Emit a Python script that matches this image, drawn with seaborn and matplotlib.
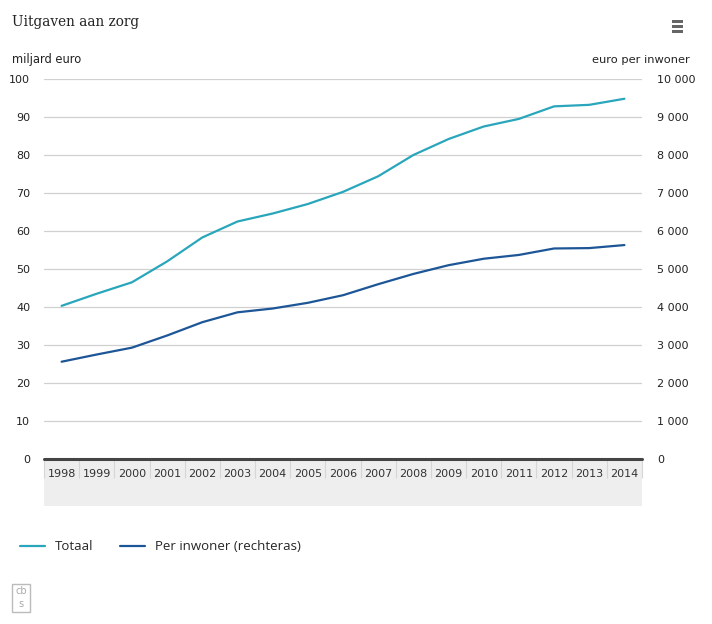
import numpy as np
import pandas as pd
import matplotlib
matplotlib.use("Agg")
import matplotlib.pyplot as plt
import seaborn as sns
from matplotlib.patches import Rectangle
from matplotlib.lines import Line2D
from matplotlib.ticker import FuncFormatter, FixedLocator

years = [str(y) for y in range(1998, 2015)]
totaal = [40.3, 43.5, 46.5, 52.0, 58.3, 62.5, 64.6, 67.1, 70.3, 74.4,
          80.0, 84.2, 87.5, 89.5, 92.8, 93.2, 94.8]
per_inwoner = [2560, 2750, 2930, 3250, 3600, 3860, 3960, 4110, 4310, 4600,
               4870, 5100, 5270, 5370, 5540, 5550, 5630]

col_totaal = "#29a6bb"
col_inwoner = "#1d5697"

sns.set_theme(style="white")
plt.rcParams["font.family"] = ["Liberation Sans Narrow", "DejaVu Sans"]

df = pd.DataFrame({"pos": np.arange(len(years)), "totaal": totaal, "inwoner": per_inwoner})

W, H = 712, 624
fig = plt.figure(figsize=(W / 100, H / 100), dpi=100)
left, right, top, bottom = 44 / W, 642 / W, 79 / H, 459 / H
ax = fig.add_axes([left, 1 - bottom, right - left, bottom - top])
ax.set_facecolor("none")

# grey band under the x axis
fig.patches.append(Rectangle((left, 1 - 506 / H), right - left, 47 / H,
                             transform=fig.transFigure, facecolor="#eeeeee",
                             edgecolor="none", zorder=-5))

sns.lineplot(data=df, x="pos", y="totaal", ax=ax, color=col_totaal, linewidth=1.6)
ax2 = ax.twinx()
ax2.set_facecolor("none")
sns.lineplot(data=df, x="pos", y="inwoner", ax=ax2, color=col_inwoner, linewidth=1.6)

ax.set_xlim(-0.5, len(years) - 0.5)
ax.set_ylim(0, 100)
ax2.set_ylim(0, 10000)
ax.set_yticks(range(0, 101, 10))
ax2.set_yticks(range(0, 10001, 1000))
ax2.yaxis.set_major_formatter(FuncFormatter(lambda v, p: f"{int(v):,}".replace(",", " ")))

for a in (ax, ax2):
    for s in a.spines.values():
        s.set_visible(False)
    a.set_xlabel("")
    a.set_ylabel("")

ax.grid(False)
ax2.grid(False)
for v in range(10, 101, 10):
    ax.axhline(v, color="#d0d0d0", linewidth=0.9, zorder=0)
ax.axhline(0, color="#444444", linewidth=2.2, zorder=3, clip_on=False)

ax.tick_params(axis="y", length=0, pad=10, labelsize=8, colors="#222222")
ax2.tick_params(axis="y", length=0, pad=11, labelsize=8, colors="#222222")

ax.set_xticks(df["pos"])
ax.set_xticklabels(years)
ax.xaxis.set_minor_locator(FixedLocator(np.arange(-0.5, len(years), 1)))
ax.tick_params(axis="x", which="major", bottom=True, length=0, pad=7, labelsize=8, colors="#333333")
ax.tick_params(axis="x", which="minor", bottom=True, length=14, width=0.8, color="#d6d6d6",
               direction="out")

# titles and axis units
fig.text(12 / W, 1 - 22 / H, "Uitgaven aan zorg", family="DejaVu Serif", fontsize=9.8,
         color="#222222", va="center", ha="left")
fig.text(12 / W, 1 - 60 / H, "miljard euro", fontsize=8.3, color="#222222", va="center", ha="left")
fig.text(690 / W, 1 - 60 / H, "euro per inwoner", fontsize=8.2, color="#222222", va="center", ha="right")

# menu icon
for yy in (20, 25, 30):
    fig.patches.append(Rectangle((672 / W, 1 - (yy + 2.5) / H), 11 / W, 2.5 / H,
                                 transform=fig.transFigure, facecolor="#666666", edgecolor="none"))

# legend
handles = [Line2D([], [], color=col_totaal, linewidth=1.6),
           Line2D([], [], color=col_inwoner, linewidth=1.6)]
fig.legend(handles, ["Totaal", "Per inwoner (rechteras)"], loc="center left",
           bbox_to_anchor=(8 / W, 1 - 547 / H), ncol=2, frameon=False,
           prop={"family": "Open Sans", "size": 9.5}, handlelength=1.9,
           columnspacing=2.0, handletextpad=0.75)

# small logo
fig.patches.append(Rectangle((12 / W, 1 - 612 / H), 18 / W, 28 / H, transform=fig.transFigure,
                             facecolor="none", edgecolor="#bbbbbb", linewidth=1))
fig.text(21 / W, 1 - 591 / H, "cb", fontsize=7, color="#aaaaaa", ha="center", va="center",
         family="DejaVu Sans")
fig.text(21 / W, 1 - 604 / H, "s", fontsize=7, color="#aaaaaa", ha="center", va="center",
         family="DejaVu Sans")

fig.savefig("out.png", dpi=100)
